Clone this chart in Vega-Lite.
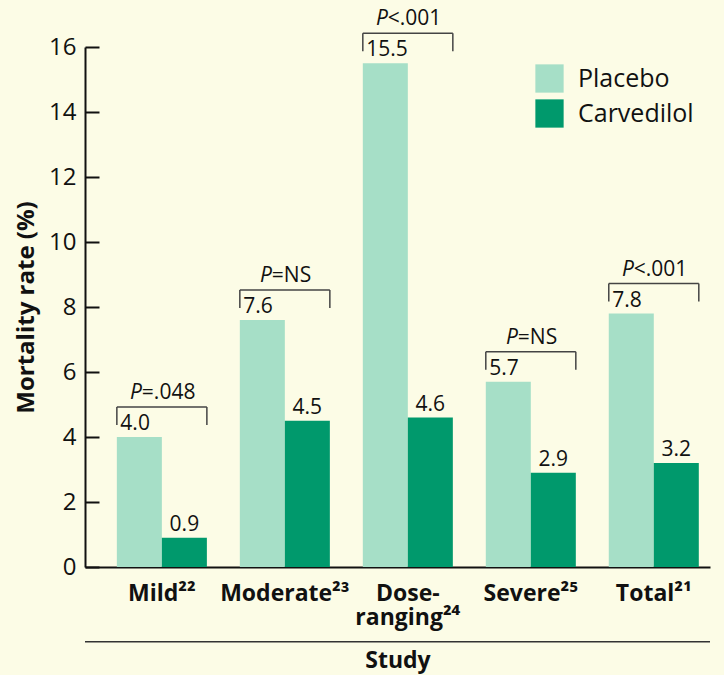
{
  "$schema": "https://vega.github.io/schema/vega-lite/v6.json",
  "width": 625,
  "height": 520,
  "autosize": {"type": "none"},
  "padding": {"left": 85, "top": 47, "right": 14, "bottom": 108},
  "background": "#fcfce6",
  "config": {"font": "Open Sans", "view": {"stroke": null}, "axis": {"grid": false}},
  "data": {"values": [
    {"study": "Mild", "treatment": "Placebo", "value": 4.0, "p": "=.048"},
    {"study": "Mild", "treatment": "Carvedilol", "value": 0.9, "p": "=.048"},
    {"study": "Moderate", "treatment": "Placebo", "value": 7.6, "p": "=NS"},
    {"study": "Moderate", "treatment": "Carvedilol", "value": 4.5, "p": "=NS"},
    {"study": "Dose-ranging", "treatment": "Placebo", "value": 15.5, "p": "<.001"},
    {"study": "Dose-ranging", "treatment": "Carvedilol", "value": 4.6, "p": "<.001"},
    {"study": "Severe", "treatment": "Placebo", "value": 5.7, "p": "=NS"},
    {"study": "Severe", "treatment": "Carvedilol", "value": 2.9, "p": "=NS"},
    {"study": "Total", "treatment": "Placebo", "value": 7.8, "p": "<.001"},
    {"study": "Total", "treatment": "Carvedilol", "value": 3.2, "p": "<.001"}
  ]},
  "layer": [
    {
      "mark": {"type": "bar"},
      "encoding": {
        "x": {"field": "study", "type": "nominal", "sort": ["Mild", "Moderate", "Dose-ranging", "Severe", "Total"],
          "scale": {"paddingInner": 0.268, "paddingOuter": 0.175, "align": 0.74},
          "axis": {"title": "Study", "labelAngle": 0, "labelFontSize": 23, "labelFontWeight": "bold", "labelColor": "#111",
            "ticks": false, "domainColor": "#111", "domainWidth": 2, "labelPadding": 15, "labelLineHeight": 24,
            "labelExpr": "datum.value == 'Mild' ? 'Mild²²' : datum.value == 'Moderate' ? 'Moderate²³' : datum.value == 'Dose-ranging' ? ['Dose-', 'ranging²⁴'] : datum.value == 'Severe' ? 'Severe²⁵' : 'Total²¹'",
            "titleFontSize": 23, "titleFontWeight": "bold", "titleColor": "#111", "titlePadding": 20}},
        "xOffset": {"field": "treatment", "sort": ["Placebo", "Carvedilol"], "scale": {"paddingInner": 0, "paddingOuter": 0}},
        "y": {"field": "value", "type": "quantitative", "scale": {"domain": [0, 16], "nice": false},
          "axis": {"title": "Mortality rate (%)", "values": [0, 2, 4, 6, 8, 10, 12, 14, 16], "tickSize": -14, "tickColor": "#111",
            "tickWidth": 2, "domainColor": "#111", "domainWidth": 2, "labelFontSize": 24, "labelColor": "#111", "labelPadding": 23,
            "titleFontSize": 24, "titleFontWeight": "bold", "titleColor": "#111", "titlePadding": 10}},
        "color": {"field": "treatment", "type": "nominal",
          "scale": {"domain": ["Placebo", "Carvedilol"], "range": ["#a6dfc7", "#00996c"]},
          "legend": {"orient": "none", "legendX": 450, "legendY": 17, "title": null, "symbolType": "square", "symbolSize": 800,
            "labelFontSize": 25, "labelOffset": 14, "rowPadding": 6, "symbolStrokeWidth": 0, "labelColor": "#111"}}
      }
    },
    {
      "transform": [{"filter": "datum.treatment == 'Carvedilol'"}],
      "mark": {"type": "text", "baseline": "bottom", "dy": -3, "fontSize": 21, "color": "#111"},
      "encoding": {
        "x": {"field": "study", "type": "nominal", "sort": ["Mild", "Moderate", "Dose-ranging", "Severe", "Total"]},
        "xOffset": {"field": "treatment", "sort": ["Placebo", "Carvedilol"]},
        "y": {"field": "value", "type": "quantitative"},
        "text": {"field": "value", "type": "quantitative", "format": ".1f"}
      }
    },
    {
      "transform": [{"filter": "datum.treatment == 'Placebo'"}],
      "mark": {"type": "text", "baseline": "bottom", "align": "left", "dx": -19, "dy": -3, "fontSize": 21, "color": "#111"},
      "encoding": {
        "x": {"field": "study", "type": "nominal", "sort": ["Mild", "Moderate", "Dose-ranging", "Severe", "Total"]},
        "xOffset": {"field": "treatment", "sort": ["Placebo", "Carvedilol"]},
        "y": {"field": "value", "type": "quantitative"},
        "text": {"field": "value", "type": "quantitative", "format": ".1f"}
      }
    },
    {
      "transform": [{"filter": "datum.treatment == 'Placebo'"}],
      "mark": {"type": "rule", "color": "#444", "strokeWidth": 1.5, "yOffset": -30},
      "encoding": {
        "x": {"field": "study", "type": "nominal", "sort": ["Mild", "Moderate", "Dose-ranging", "Severe", "Total"], "bandPosition": 0},
        "x2": {"field": "study", "bandPosition": 1},
        "y": {"field": "value", "type": "quantitative"}
      }
    },
    {
      "transform": [{"filter": "datum.treatment == 'Placebo'"}],
      "mark": {"type": "rule", "color": "#444", "strokeWidth": 1.5, "yOffset": -30, "y2Offset": -12},
      "encoding": {
        "x": {"field": "study", "type": "nominal", "sort": ["Mild", "Moderate", "Dose-ranging", "Severe", "Total"], "bandPosition": 0},
        "y": {"field": "value", "type": "quantitative"},
        "y2": {"field": "value"}
      }
    },
    {
      "transform": [{"filter": "datum.treatment == 'Placebo'"}],
      "mark": {"type": "rule", "color": "#444", "strokeWidth": 1.5, "yOffset": -30, "y2Offset": -12},
      "encoding": {
        "x": {"field": "study", "type": "nominal", "sort": ["Mild", "Moderate", "Dose-ranging", "Severe", "Total"], "bandPosition": 1},
        "y": {"field": "value", "type": "quantitative"},
        "y2": {"field": "value"}
      }
    },
    {
      "transform": [{"filter": "datum.treatment == 'Placebo' && datum.p != '=NS'"}],
      "mark": {"type": "text", "align": "right", "baseline": "alphabetic", "dx": -20, "dy": -38, "fontSize": 21, "fontStyle": "italic", "color": "#111"},
      "encoding": {
        "x": {"field": "study", "type": "nominal", "sort": ["Mild", "Moderate", "Dose-ranging", "Severe", "Total"]},
        "y": {"field": "value", "type": "quantitative"},
        "text": {"value": "P"}
      }
    },
    {
      "transform": [{"filter": "datum.treatment == 'Placebo' && datum.p != '=NS'"}],
      "mark": {"type": "text", "align": "left", "baseline": "alphabetic", "dx": -20, "dy": -38, "fontSize": 21, "color": "#111"},
      "encoding": {
        "x": {"field": "study", "type": "nominal", "sort": ["Mild", "Moderate", "Dose-ranging", "Severe", "Total"]},
        "y": {"field": "value", "type": "quantitative"},
        "text": {"field": "p", "type": "nominal"}
      }
    },
    {
      "transform": [{"filter": "datum.treatment == 'Placebo' && datum.p == '=NS'"}],
      "mark": {"type": "text", "align": "right", "baseline": "alphabetic", "dx": -13, "dy": -38, "fontSize": 21, "fontStyle": "italic", "color": "#111"},
      "encoding": {
        "x": {"field": "study", "type": "nominal", "sort": ["Mild", "Moderate", "Dose-ranging", "Severe", "Total"]},
        "y": {"field": "value", "type": "quantitative"},
        "text": {"value": "P"}
      }
    },
    {
      "transform": [{"filter": "datum.treatment == 'Placebo' && datum.p == '=NS'"}],
      "mark": {"type": "text", "align": "left", "baseline": "alphabetic", "dx": -13, "dy": -38, "fontSize": 21, "color": "#111"},
      "encoding": {
        "x": {"field": "study", "type": "nominal", "sort": ["Mild", "Moderate", "Dose-ranging", "Severe", "Total"]},
        "y": {"field": "value", "type": "quantitative"},
        "text": {"field": "p", "type": "nominal"}
      }
    },
    {
      "data": {"values": [{"line": "study"}]},
      "mark": {"type": "rule", "color": "#333", "strokeWidth": 1.5, "clip": false},
      "encoding": {
        "y": {"datum": -2.3, "type": "quantitative"}
      }
    }
  ]
}
